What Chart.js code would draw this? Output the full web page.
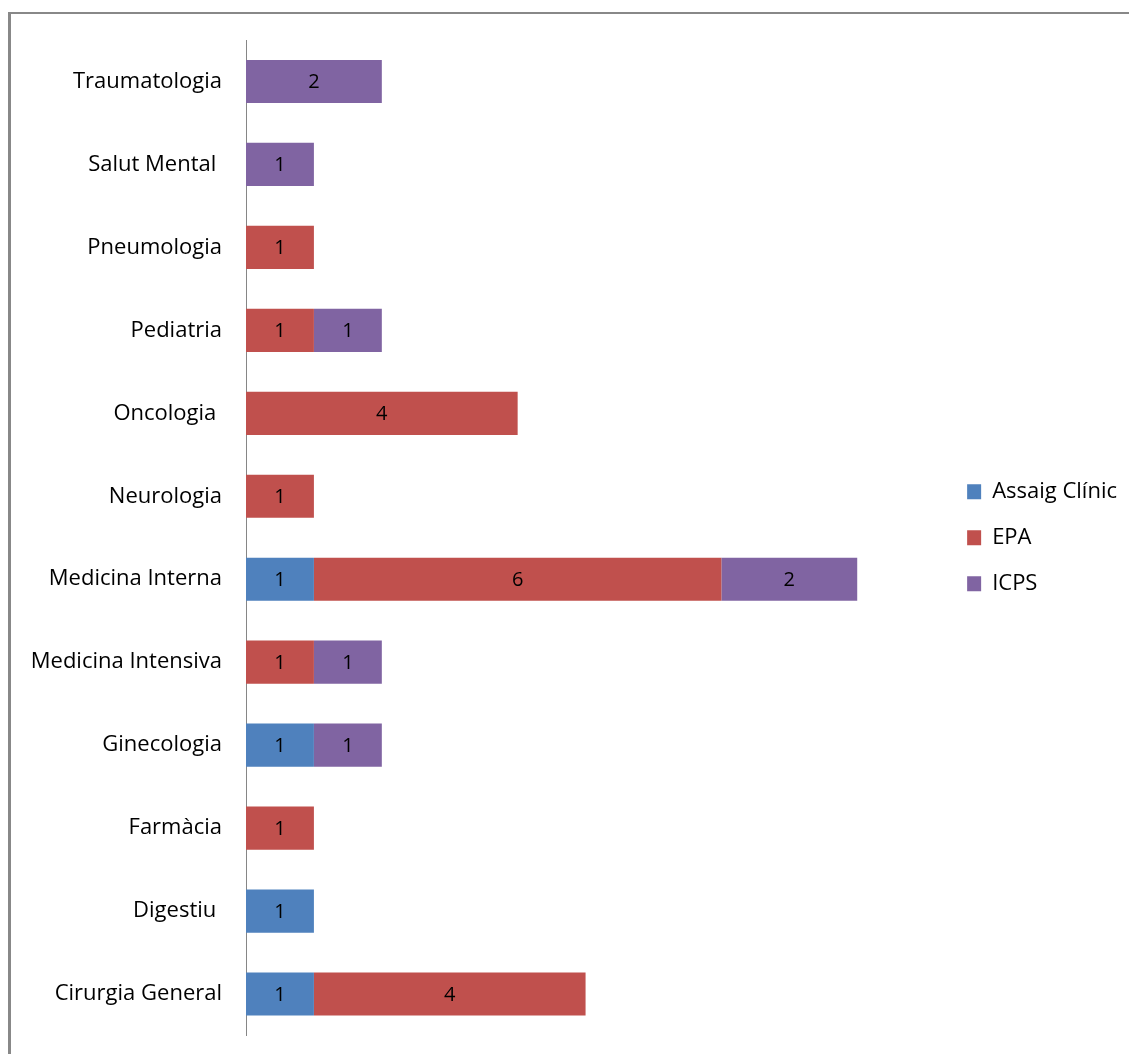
<!DOCTYPE html>
<html>
<head>
<meta charset="utf-8">
<script src="https://cdn.jsdelivr.net/npm/chart.js@4.4.0/dist/chart.umd.min.js"></script>
<style>
    html, body { margin: 0; padding: 0; background: #fff; overflow: hidden; }
    #frame {
        position: absolute; left: 8px; top: 12px; width: 1118px; height: 1040px;
        border-left: 3px solid #888; border-top: 2px solid #888;
    }
    #wrap { position: absolute; left: 0; top: 0; width: 1129px; height: 1055px; }
</style>
</head>
<body>
<div id="frame"></div>
<div id="wrap"><canvas id="chart"></canvas></div>
<script>
'use strict';

// Categories, top to bottom
const categories = [
    'Traumatologia', 'Salut Mental ', 'Pneumologia', 'Pediatria', 'Oncologia ',
    'Neurologia', 'Medicina Interna', 'Medicina Intensiva', 'Ginecologia',
    'Farmàcia', 'Digestiu ', 'Cirurgia General'
];
const seriesNames = ['Assaig Clínic', 'EPA', 'ICPS'];
const assaig = [null, null, null, null, null, null, 1, null, 1, null, 1, 1];
const epa    = [null, null, 1, 1, 4, 1, 6, 1, null, 1, null, 4];
const icps   = [2, 1, null, 1, null, null, 2, 1, 1, null, null, null];

const COLORS = {
    assaig: '#4F81BD',
    epa: '#C0504D',
    icps: '#8064A2',
    axis: '#868686',
    text: '#000000',
};

const FONT = '"Open Sans", "Noto Sans", sans-serif';

// Valores dentro de cada segmento
const segmentLabels = {
    id: 'segmentLabels',
    afterDatasetsDraw(chart) {
        const ctx = chart.ctx;
        ctx.save();
        ctx.font = '20px ' + FONT;
        ctx.fillStyle = COLORS.text;
        ctx.textAlign = 'center';
        ctx.textBaseline = 'middle';
        chart.data.datasets.forEach((ds, i) => {
            const meta = chart.getDatasetMeta(i);
            meta.data.forEach((bar, j) => {
                const v = ds.data[j];
                if (v === null || v === undefined) return;
                const { x, y, base } = bar.getProps(['x', 'y', 'base'], true);
                ctx.fillText(String(v), (x + base) / 2, y + 1);
            });
        });
        ctx.restore();
    }
};

const mk = (label, data, color) => ({
    label, data,
    backgroundColor: color,
    borderWidth: 0,
    categoryPercentage: 1,
    barPercentage: 0.52,
});

new Chart(document.getElementById('chart'), {
    type: 'bar',
    data: {
        labels: categories,
        datasets: [
            mk(seriesNames[0], assaig, COLORS.assaig),
            mk(seriesNames[1], epa, COLORS.epa),
            mk(seriesNames[2], icps, COLORS.icps),
        ]
    },
    options: {
        indexAxis: 'y',
        responsive: true,
        maintainAspectRatio: false,
        animation: false,
        layout: { padding: { left: 0, top: 40, bottom: 19.5, right: 2 } },
        plugins: {
            tooltip: { enabled: false },
            legend: {
                position: 'right',
                labels: {
                    boxWidth: 14,
                    boxHeight: 15,
                    padding: 24,
                    color: COLORS.text,
                    font: { family: FONT, size: 22 },
                }
            }
        },
        scales: {
            x: {
                stacked: true,
                display: false,
                min: 0,
                max: 10.265,
            },
            y: {
                stacked: true,
                grid: { display: false, drawTicks: false },
                border: { display: true, color: COLORS.axis, width: 1 },
                ticks: {
                    padding: 24,
                    color: COLORS.text,
                    font: { family: FONT, size: 22 },
                },
                afterFit: (scale) => {
                    scale.width = 246;
                    // no extra room above/below for the labels
                    scale.paddingTop = 0;
                    scale.paddingBottom = 0;
                }
            }
        }
    },
    plugins: [segmentLabels]
});
</script>
</body>
</html>
